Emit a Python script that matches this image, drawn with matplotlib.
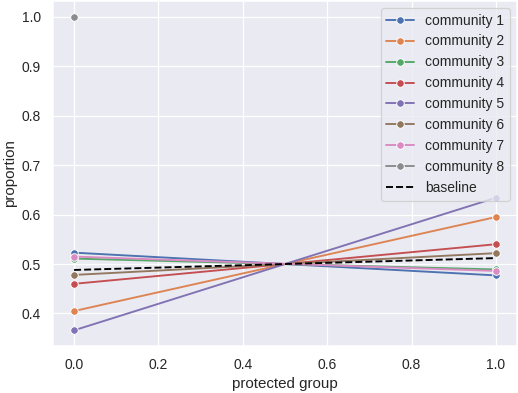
import numpy as np
import matplotlib
matplotlib.use("Agg")
import matplotlib.pyplot as plt
import seaborn as sns

sns.set_theme(style="darkgrid")
plt.rcParams["font.family"] = ["Liberation Sans", "DejaVu Sans"]

x = [0.0, 1.0]
communities = ["community 1", "community 2", "community 3", "community 4",
               "community 5", "community 6", "community 7", "community 8"]
values = [
    [0.523, 0.477],
    [0.405, 0.595],
    [0.511, 0.489],
    [0.460, 0.540],
    [0.366, 0.634],
    [0.478, 0.522],
    [0.515, 0.486],
    [1.0, np.nan],
]
baseline = [0.488, 0.512]

DPI = 91
fig = plt.figure(figsize=(518 / DPI, 393 / DPI), dpi=DPI)
ax = fig.add_axes([53 / 518, 1 - 346 / 393, 464 / 518, 345 / 393])
palette = sns.color_palette("deep")
for i, (name, vals) in enumerate(zip(communities, values)):
    ax.plot(x, vals, marker="o", color=palette[i], label=name,
            markeredgecolor="white", markeredgewidth=0.75, markersize=6, linewidth=1.5)
ax.plot(x, baseline, "--", color="black", label="baseline", linewidth=1.5)
ax.set_xlabel("protected group")
ax.set_ylabel("proportion")
ax.set_xticks([0.0, 0.2, 0.4, 0.6, 0.8, 1.0])
ax.set_yticks([0.4, 0.5, 0.6, 0.7, 0.8, 0.9, 1.0])
ax.legend(loc="upper right")
fig.savefig("out.png", dpi=DPI)
